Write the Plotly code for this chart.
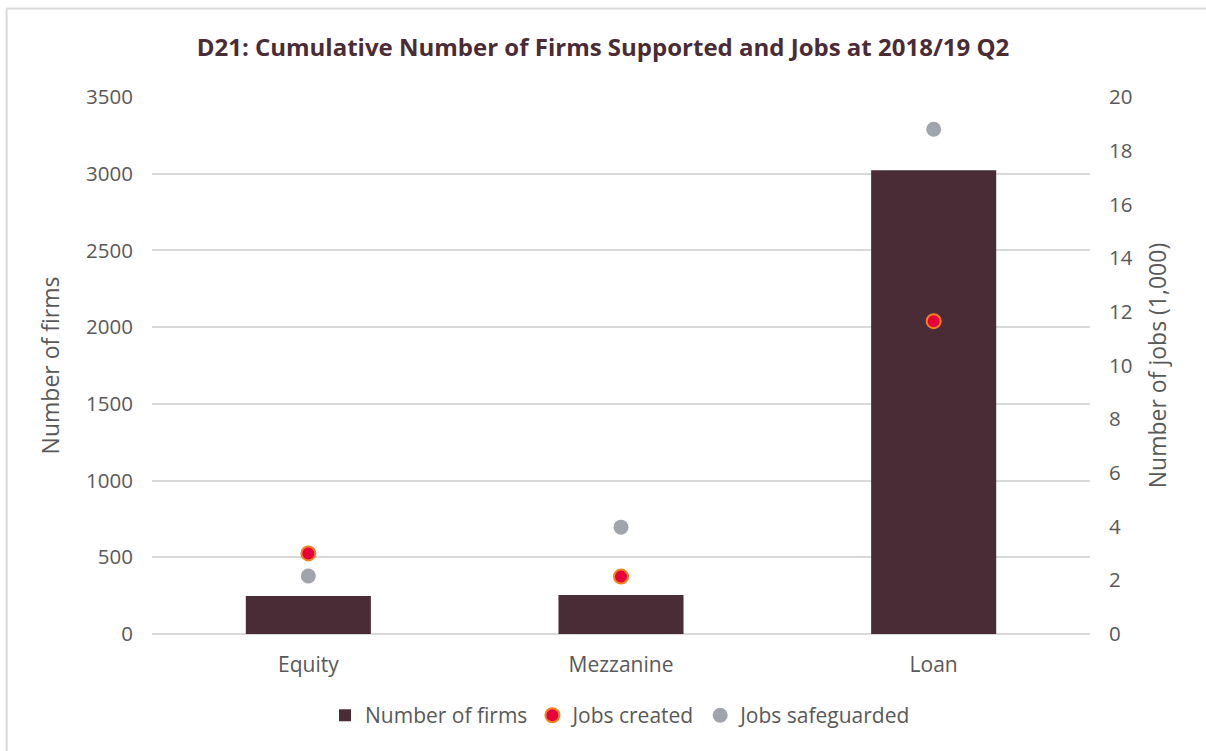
import plotly.graph_objects as go

categories = ["Equity", "Mezzanine", "Loan"]
firms = [248, 254, 3023]
jobs_created = [3.0, 2.14, 11.65]        # thousands
jobs_safeguarded = [2.16, 3.98, 18.8]    # thousands

left_ticks = [0, 500, 1000, 1500, 2000, 2500, 3000, 3500]
right_ticks = [0, 2, 4, 6, 8, 10, 12, 14, 16, 18, 20]

BAR = "#4a2c36"
GRID = "#d9d9d9"
TXT = "#595959"
FONT = "Open Sans"

fig = go.Figure()
fig.add_trace(go.Bar(
    x=categories, y=firms, name="Number of firms",
    marker=dict(color=BAR, line=dict(width=0)), width=0.4,
))
fig.add_trace(go.Scatter(
    x=categories, y=jobs_created, name="Jobs created", mode="markers",
    marker=dict(color="#e8003d", size=14, line=dict(color="#f5821f", width=2)),
    yaxis="y2",
))
fig.add_trace(go.Scatter(
    x=categories, y=jobs_safeguarded, name="Jobs safeguarded", mode="markers",
    marker=dict(color="#a0a4ad", size=15, line=dict(width=0)),
    yaxis="y2",
))

fig.update_layout(
    width=1206, height=751,
    margin=dict(l=152, r=116, t=97, b=117),
    paper_bgcolor="white", plot_bgcolor="white",
    font=dict(family=FONT, color=TXT, size=20),
    title=dict(
        text="<b>D21: Cumulative Number of Firms Supported and Jobs at 2018/19 Q2</b>",
        x=0.5, xanchor="center", y=0.937, yanchor="middle",
        font=dict(family=FONT, size=24, color=BAR),
    ),
    xaxis=dict(
        showgrid=False, showline=False, ticks="",
        tickfont=dict(size=21, color=TXT), ticklabelstandoff=16,
    ),
    yaxis=dict(
        range=[0, 3500], tickvals=left_ticks, showgrid=True, gridcolor=GRID,
        gridwidth=1.5, zeroline=True, zerolinecolor=GRID, zerolinewidth=1.5,
        showline=False, ticks="", ticklabelstandoff=18,
        title=dict(text="Number of firms", font=dict(size=23, color=TXT), standoff=20),
        tickfont=dict(size=20.5, color=TXT),
    ),
    yaxis2=dict(
        range=[0, 20], tickvals=right_ticks, overlaying="y", side="right",
        showgrid=False, zeroline=False, showline=False, ticks="",
        ticklabelstandoff=18,
        title=dict(text="Number of jobs (1,000)", font=dict(size=23, color=TXT), standoff=18),
        tickfont=dict(size=20.5, color=TXT),
    ),
    legend=dict(
        orientation="h", x=0.5, xanchor="center", y=-0.152, yanchor="middle",
        font=dict(size=21, color=TXT), itemwidth=30, traceorder="normal",
    ),
    showlegend=True,
)

# Light frame along the top and left edges of the chart area
fig.add_shape(type="line", xref="paper", yref="paper", x0=-0.155, x1=1.2,
              y0=1.165, y1=1.165, line=dict(color=GRID, width=2))
fig.add_shape(type="line", xref="paper", yref="paper", x0=-0.155, x1=-0.155,
              y0=-0.3, y1=1.165, line=dict(color=GRID, width=2))

fig.write_html("out.html")
